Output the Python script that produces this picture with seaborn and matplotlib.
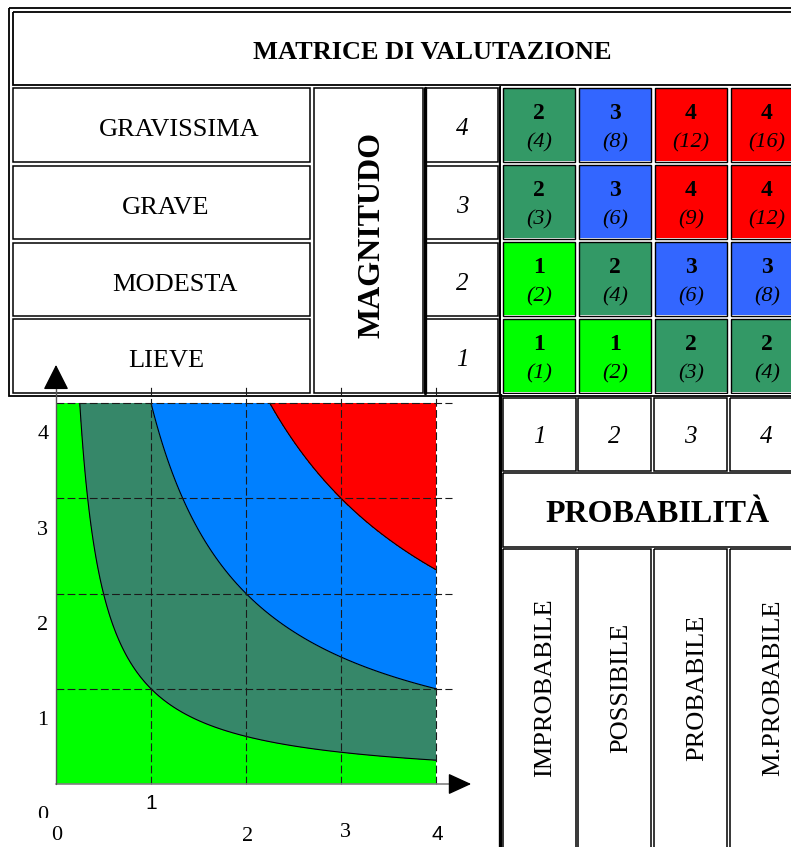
"""
Risk assessment matrix (Magnitudo x Probabilita) with the iso-risk plane below.
"""

import matplotlib
matplotlib.use("Agg")
import matplotlib.pyplot as plt
from matplotlib.colors import ListedColormap
from matplotlib.patches import Rectangle
import numpy as np
import pandas as pd
import seaborn as sns

TITLE = "MATRICE DI VALUTAZIONE"
MAGNITUDE_TITLE = "MAGNITUDO"
PROBABILITY_TITLE = "PROBABILITÀ"
MAGNITUDE_LABELS = ["GRAVISSIMA", "GRAVE", "MODESTA", "LIEVE"]
MAGNITUDE_VALUES = [4, 3, 2, 1]
PROBABILITY_LABELS = ["IMPROBABILE", "POSSIBILE", "PROBABILE", "M.PROBABILE"]
PROBABILITY_VALUES = [1, 2, 3, 4]

# rows go from magnitudo 4 (top) down to 1
RISK_CLASS = [
    [2, 3, 4, 4],
    [2, 3, 4, 4],
    [1, 2, 3, 3],
    [1, 1, 2, 2],
]
RISK_PRODUCT = [
    [4, 8, 12, 16],
    [3, 6, 9, 12],
    [2, 4, 6, 8],
    [1, 2, 3, 4],
]
CLASS_COLORS = ["#00FF00", "#339966", "#3366FF", "#FF0000"]

# iso-risk curves P x M = k on the lower plane
RISK_THRESHOLDS = [1, 4, 9]
ZONE_COLORS = ["#00FF00", "#368769", "#0080FF", "#FF0000"]
GRID_TICKS = [1, 2, 3, 4]
Y_TICK_LABELS = ["4", "3", "2", "1", "0"]

W, H = 791, 847

sns.set_style("white")
plt.rcParams["font.family"] = ["Liberation Serif", "DejaVu Serif"]
plt.rcParams["text.color"] = "black"


def px_rect(x0, y0, x1, y1):
    """Pixel box (top-left origin) -> figure fraction rect."""
    return [x0 / W, 1 - y1 / H, (x1 - x0) / W, (y1 - y0) / H]


def box(ax, x0, y0, x1, y1, lw=1.1):
    ax.add_patch(Rectangle((x0, y0), x1 - x0, y1 - y0, fill=False,
                           ec="black", lw=lw))


def draw_table(bg):
    # top block frame and title
    box(bg, 9, 8, 830, 396.5, lw=1.3)
    box(bg, 12.5, 12, 830, 85, lw=1.3)
    bg.text(432, 59, TITLE, ha="center", va="baseline",
            fontsize=19, fontweight="bold")

    row_tops = [88, 166, 243, 319.5]
    row_bots = [162.5, 239.5, 316.5, 393]
    label_x = [179, 166, 175, 166]
    for top, bot, lab, val, lx in zip(row_tops, row_bots, MAGNITUDE_LABELS,
                                      MAGNITUDE_VALUES, label_x):
        mid = (top + bot) / 2
        box(bg, 12.5, top, 310, bot)
        bg.text(lx, mid + 11, lab, ha="center", va="baseline", fontsize=19)
        box(bg, 426, top, 498, bot)
        bg.text(462, mid + 10, str(val), ha="center", va="baseline",
                fontsize=18, style="italic")

    box(bg, 314, 88, 423, 393)
    bg.plot([424.5, 424.5], [88, 393], color="black", lw=2.4)
    bg.text(380, 235, MAGNITUDE_TITLE, rotation=90, rotation_mode="anchor",
            ha="center", va="baseline", fontsize=23, fontweight="bold")
    bg.plot([500, 500], [87, 396], color="black", lw=2.4)

    # lower right block
    col_l = [502.5, 578, 654, 730]
    col_r = [575.5, 651, 727, 830]
    bg.plot([500, 500], [396, 850], color="black", lw=2.4)
    for l, r, lab, val in zip(col_l, col_r, PROBABILITY_LABELS,
                              PROBABILITY_VALUES):
        box(bg, l, 398.5, r, 471)
        bg.text((l + r) / 2 if r < 800 else 766, 443, str(val), ha="center",
                va="baseline", fontsize=18, style="italic")
        box(bg, l, 549.5, r, 900)
        bg.text(l + 49, 688, lab, rotation=90, rotation_mode="anchor",
                ha="center", va="baseline", fontsize=19)
    box(bg, 502.5, 473.5, 830, 547)
    bg.text(657, 522, PROBABILITY_TITLE, ha="center", va="baseline",
            fontsize=23, fontweight="bold")


def draw_matrix(fig):
    ax = fig.add_axes(px_rect(501, 86.5, 805, 394.5))
    sns.heatmap(pd.DataFrame(RISK_CLASS), cmap=ListedColormap(CLASS_COLORS),
                vmin=0.5, vmax=4.5, cbar=False, linewidths=1.5,
                linecolor="white", xticklabels=False, yticklabels=False,
                ax=ax)
    dx, dy = 1.75 / 76, 1.75 / 77
    for i, row in enumerate(RISK_CLASS):
        for j, cls in enumerate(row):
            ax.add_patch(Rectangle((j + dx, i + dy), 1 - 2 * dx, 1 - 2 * dy,
                                   fill=False, ec="black", lw=1.0))
            ax.text(j + 0.5, i + 0.422, str(cls), ha="center", va="baseline",
                    fontsize=17, fontweight="bold")
            ax.text(j + 0.5, i + 0.786, f"({RISK_PRODUCT[i][j]})",
                    ha="center", va="baseline", fontsize=16, style="italic")
    ax.set_xlabel("")
    ax.set_ylabel("")


def draw_plane(fig):
    # data 0..4 maps to px 56..436 horizontally and 784..403 vertically
    x0, x1, y0, y1 = -0.55, 4.6, -0.66, 4.45
    ax = fig.add_axes(px_rect(56 + 95 * x0, 784 - 95.25 * y1,
                              56 + 95 * x1, 784 - 95.25 * y0))
    ax.set_xlim(x0, x1)
    ax.set_ylim(y0, y1)
    ax.axis("off")

    p = np.linspace(0, 4, 500)
    P, M = np.meshgrid(p, p)
    R = P * M
    ax.contourf(P, M, R, levels=[0] + RISK_THRESHOLDS + [16.01],
                colors=ZONE_COLORS)
    ax.contour(P, M, R, levels=RISK_THRESHOLDS, colors="black",
               linewidths=0.8)

    for t in GRID_TICKS:
        ax.plot([t, t], [0, 4.17], color="#1a1a1a", lw=0.8, ls=(0, (7, 3)))
        ax.plot([0, 4.17], [t, t], color="#1a1a1a", lw=0.8, ls=(0, (7, 3)))

    # axes with arrow heads
    ax.plot([0, 4.17], [0, 0], color="#808080", lw=1.2)
    ax.plot([0, 0], [0, 4.17], color="#555555", lw=1.0)
    ax.annotate("", xy=(4.37, 0), xytext=(4.16, 0),
                arrowprops=dict(arrowstyle="-|>,head_length=0.72,head_width=0.33",
                                color="black", lw=1, mutation_scale=20,
                                shrinkA=0, shrinkB=0))
    ax.annotate("", xy=(0, 4.40), xytext=(0, 4.16),
                arrowprops=dict(arrowstyle="-|>,head_length=0.79,head_width=0.4",
                                color="black", lw=1, mutation_scale=20,
                                shrinkA=0, shrinkB=0))

    clip = Rectangle((-1, -0.36), 2, 6, transform=ax.transData)
    for k, lab in enumerate(Y_TICK_LABELS):
        t = ax.text(-0.14, 3.665 - k, lab, ha="center", va="center",
                    fontsize=16)
        t.set_clip_on(True)
        t.set_clip_path(clip)

    sans = ["Liberation Sans", "DejaVu Sans"]
    ax.text(1.0, -0.2, "1", ha="center", va="center", fontsize=15,
            family=sans)
    ax.text(0.01, -0.54, "0", ha="center", va="center", fontsize=16)
    ax.text(2.02, -0.55, "2", ha="center", va="center", fontsize=16)
    ax.text(3.05, -0.51, "3", ha="center", va="center", fontsize=16)
    ax.text(4.01, -0.525, "4", ha="center", va="center", fontsize=15,
            family=sans)


def main():
    fig = plt.figure(figsize=(W / 100, H / 100), dpi=100)
    bg = fig.add_axes([0, 0, 1, 1])
    bg.set_xlim(0, W)
    bg.set_ylim(H, 0)
    bg.axis("off")

    draw_table(bg)
    draw_matrix(fig)
    draw_plane(fig)

    fig.savefig("out.png", dpi=100)
    plt.close(fig)


if __name__ == "__main__":
    main()
